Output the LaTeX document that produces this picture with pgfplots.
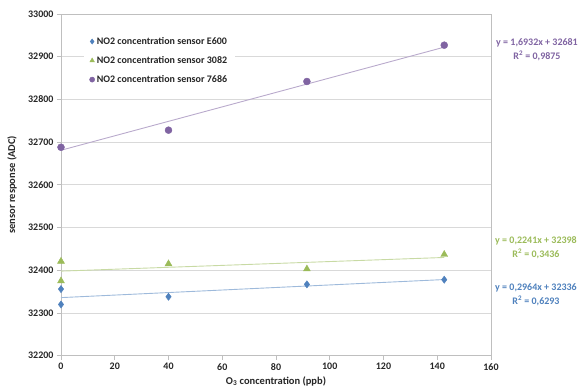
\documentclass[border=0pt]{standalone}
\usepackage{fontspec}
\setmainfont{Carlito}
\usepackage{pgfplots}
\pgfplotsset{compat=1.18}
\definecolor{eblue}{HTML}{4F81BD}
\definecolor{egreen}{HTML}{9BBB59}
\definecolor{epurple}{HTML}{8064A2}
\definecolor{gridc}{HTML}{D9D9D9}
\definecolor{axc}{HTML}{BFBFBF}
\definecolor{txt}{HTML}{262626}
\begin{document}
\begin{tikzpicture}[x=1pt,y=1pt]
\path[use as bounding box] (-61,-35.3) rectangle (519,355.7);
\begin{axis}[
  at={(0pt,0pt)}, anchor=south west,
  scale only axis, width=430pt, height=341.7pt,
  xmin=0, xmax=160, ymin=32200, ymax=33000,
  xtick={0,20,...,160}, ytick={32200,32300,...,33000},
  scaled ticks=false,
  ymajorgrids, grid style={gridc, line width=0.8pt},
  axis line style={axc, line width=0.8pt},
  tick style={axc, line width=0.8pt},
  tick align=outside, major tick length=4pt,
  xtick pos=lower, ytick pos=left,
  /pgf/number format/set thousands separator={},
  /pgf/number format/assume math mode=true,
  ticklabel style={font=\bfseries\fontsize{10}{12}\selectfont, text=txt},
  xlabel={O\textsubscript{3} concentration (ppb)},
  ylabel={sensor response (ADC)},
  label style={font=\bfseries\fontsize{10.5}{12}\selectfont, text=txt},
  xlabel style={at={(axis description cs:0.5,-0.074)}, anchor=center},
  ylabel style={at={(axis description cs:-0.114,0.5)}, anchor=center},
  clip=false,
  legend image code/.code={\draw[#1, mark size=2.6pt] plot coordinates {(3pt,0pt)};},
  legend style={at={(0.052,0.953)}, anchor=north west, draw=none, fill=white,
    font=\bfseries\fontsize{10}{12}\selectfont, text=txt, row sep=6.5pt,
    inner xsep=6pt, inner ysep=5pt},
  legend cell align=left,
]
% trendlines
\addplot[forget plot, eblue!55, line width=0.9pt] coordinates {(0,32336) (142.6,32378.3)};
\addplot[forget plot, egreen!55, line width=0.9pt] coordinates {(0,32398) (142.6,32430.0)};
\addplot[forget plot, epurple!55, line width=0.9pt] coordinates {(0,32681) (142.6,32922.4)};
% data
\addplot[only marks, mark=diamond*, mark size=3.6pt, color=eblue]
  coordinates {(0,32356) (0,32320) (40,32338) (91.5,32367) (142.6,32378)};
\addlegendentry{NO2 concentration sensor E600}
\addplot[only marks, mark=triangle*, mark size=4pt, color=egreen]
  coordinates {(0,32421) (0,32375) (40,32415) (91.5,32403) (142.6,32437)};
\addlegendentry{NO2 concentration sensor 3082}
\addplot[only marks, mark=*, mark size=3.5pt, color=epurple]
  coordinates {(0,32688) (40,32728) (91.5,32842) (142.6,32927)};
\addlegendentry{NO2 concentration sensor 7686}
\end{axis}
\begin{scope}[every node/.style={font=\bfseries\fontsize{10}{12}\selectfont, inner sep=0pt}]
\node[text=epurple] at (476,312.4) {y = 1,6932x + 32681};
\node[text=epurple] at (476,300.0) {R\textsuperscript{2} = 0,9875};
\node[text=egreen] at (475,114.7) {y = 0,2241x + 32398};
\node[text=egreen] at (475,101.7) {R\textsuperscript{2} = 0,3436};
\node[text=eblue] at (475,67.4) {y = 0,2964x + 32336};
\node[text=eblue] at (475,54.7) {R\textsuperscript{2} = 0,6293};
\end{scope}
\end{tikzpicture}
\end{document}
